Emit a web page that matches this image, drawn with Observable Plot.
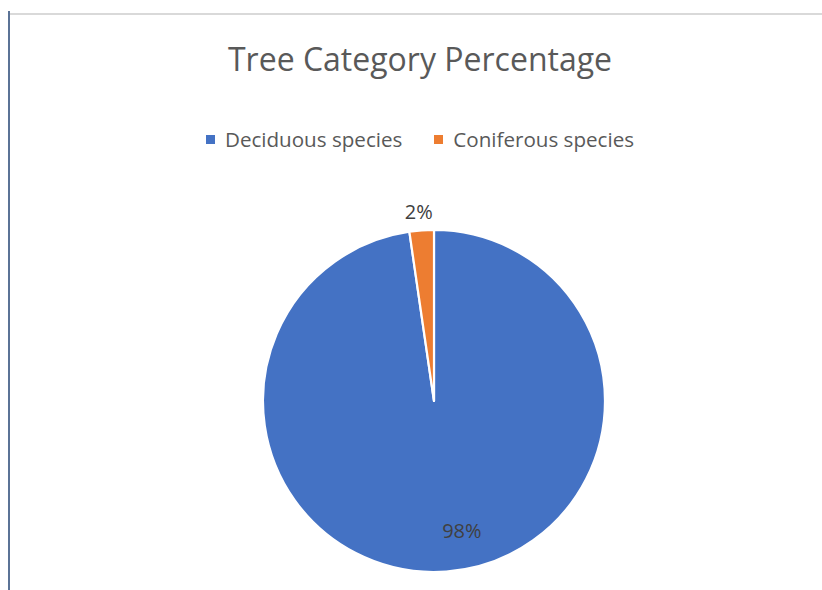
<!DOCTYPE html>
<html>
<head>
<meta charset="utf-8">
<script src="https://cdn.jsdelivr.net/npm/d3@7"></script>
<script src="https://cdn.jsdelivr.net/npm/@observablehq/plot@0.6"></script>
<style>
  html, body { margin: 0; padding: 0; background: #fff; }
  #wrap { position: relative; width: 822px; height: 590px; overflow: hidden; background: #fff; font-family: "Open Sans", "Noto Sans", sans-serif; }
  #topline { position: absolute; left: 10px; right: 0; top: 13px; height: 2px; background: #d9d9d9; }
  #leftline { position: absolute; left: 8px; top: 11px; bottom: 0; width: 1.5px; background: #5b7396; }
  #title { position: absolute; left: 0; width: 840px; top: 37px; text-align: center; font-size: 32px; color: #595959; line-height: 44px; white-space: nowrap; }
  #legend { position: absolute; left: 0; width: 840px; top: 125px; display: flex; justify-content: center; font-size: 20.6px; color: #595959; line-height: 28px; white-space: nowrap; }
  .item { display: flex; align-items: center; margin: 0 16px; }
  .sw { width: 9px; height: 9px; margin-right: 10px; margin-top: 1px; }
  #chart { position: absolute; left: 0; top: 0; }
</style>
</head>
<body>
<div id="wrap">
  <div id="topline"></div>
  <div id="leftline"></div>
  <div id="chart"></div>
  <div id="title">Tree Category Percentage</div>
  <div id="legend"></div>
</div>
<script>
const categories = ["Deciduous species", "Coniferous species"];
const values = [97.7, 2.3];
const labels = ["98%", "2%"];
const colors = ["#4472C4", "#ED7D31"];

const W = 822, H = 590, CX = 434, CY = 401, R = 171;

const data = categories.map((c, i) => ({category: c, value: values[i], label: labels[i]}));
const arcs = d3.pie().sort(null).value(d => d.value).startAngle(0).endAngle(2 * Math.PI)(data);

const labelRadius = [0.76, 1.11];
const labelDx = [18, -2];
const labelData = arcs.map((a, i) => {
  const mid = (a.startAngle + a.endAngle) / 2;
  return {label: a.data.label, x: Math.sin(mid) * labelRadius[i], y: Math.cos(mid) * labelRadius[i]};
});

const pieMark = (index, scales) => {
  const cx = scales.x(0), cy = scales.y(0);
  const r = scales.x(1) - scales.x(0);
  const arc = d3.arc().innerRadius(0).outerRadius(r);
  const g = d3.create("svg:g").attr("transform", `translate(${cx},${cy})`);
  g.selectAll("path").data(arcs).join("path")
    .attr("d", arc)
    .attr("fill", (d, i) => colors[i])
    .attr("stroke", "#fff")
    .attr("stroke-width", 2.2)
    .attr("stroke-linejoin", "round");
  return g.node();
};

const plot = Plot.plot({
  width: W, height: H,
  margin: 0,
  x: {domain: [-CX / R, (W - CX) / R], axis: null},
  y: {domain: [-(H - CY) / R, CY / R], axis: null},
  style: {background: "transparent", overflow: "visible"},
  marks: [
    pieMark,
    Plot.text(labelData.slice(0, 1), {x: "x", y: "y", text: "label", dx: labelDx[0], fontSize: 20, fill: "#404040", fontFamily: "Open Sans, sans-serif"}),
    Plot.text(labelData.slice(1, 2), {x: "x", y: "y", text: "label", dx: labelDx[1], fontSize: 20, fill: "#404040", fontFamily: "Open Sans, sans-serif"})
  ]
});
document.getElementById("chart").appendChild(plot);

const legend = d3.select("#legend");
categories.forEach((c, i) => {
  const it = legend.append("div").attr("class", "item");
  it.append("div").attr("class", "sw").style("background", colors[i]);
  it.append("span").text(c);
});
</script>
</body>
</html>
